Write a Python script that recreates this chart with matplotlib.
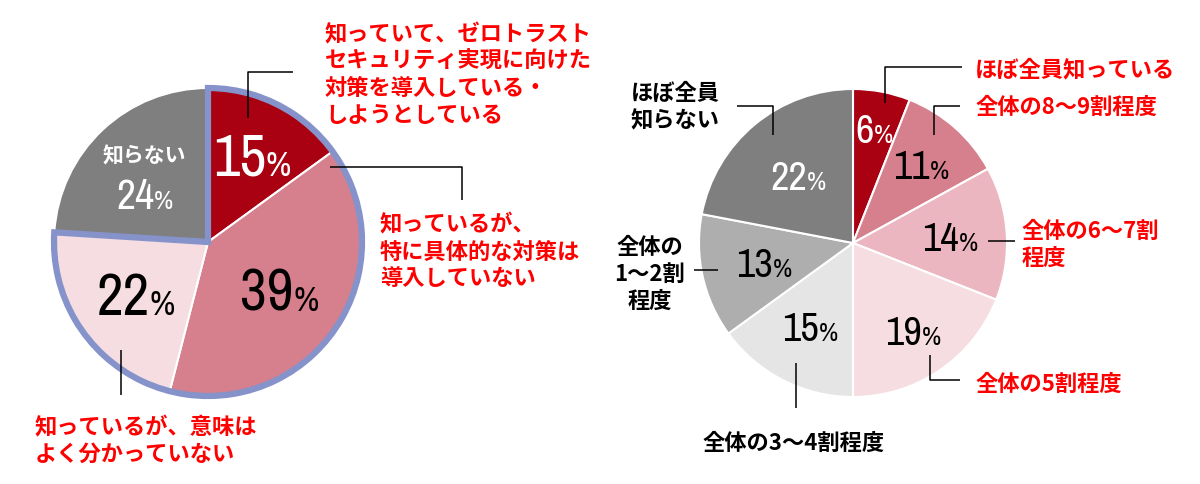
import numpy as np
from matplotlib import pyplot as plt
from matplotlib.patches import Wedge

# left pie: awareness of zero trust
left_values = [15, 39, 22, 24]
left_nums = ['15', '39', '22', '24']
left_colors = ['#A90012', '#D6808E', '#F5DDE1', '#7F7F7F']
left_numcolors = ['white', 'black', 'black', 'white']
left_callouts = ['知っていて、ゼロトラスト\nセキュリティ実現に向けた\n対策を導入している・\nしようとしている',
                 '知っているが、\n特に具体的な対策は\n導入していない',
                 '知っているが、意味は\nよく分かっていない']

# right pie: share of staff who know
right_values = [6, 11, 14, 19, 15, 13, 22]
right_nums = ['6', '11', '14', '19', '15', '13', '22']
right_colors = ['#A90012', '#D6808E', '#EBB6C0', '#F5DDE1', '#E5E5E5', '#AEAEAE', '#7F7F7F']
right_numcolors = ['white', 'black', 'black', 'black', 'black', 'black', 'white']
right_callouts = ['ほぼ全員知っている', '全体の8～9割程度', '全体の6～7割\n程度', '全体の5割程度',
                  '全体の3～4割程度', '全体の\n1～2割\n程度', 'ほぼ全員\n知らない']

W, H = 1200, 484
JP = ['Noto Sans CJK JP', 'DejaVu Sans']
NUM = ['Archivo Narrow', 'Roboto Condensed', 'DejaVu Sans']
RED = '#FF0000'

fig = plt.figure(figsize=(12, 4.84), dpi=100)
ax = fig.add_axes([0, 0, 1, 1])


def Y(y):
    return H - y


R = 154
lc = (208, Y(242))
rc = (853, Y(243))

lw_, _ = ax.pie(left_values, colors=left_colors, startangle=90, counterclock=False,
                radius=R, center=lc, wedgeprops=dict(edgecolor='white', linewidth=1.5))
rw_, _ = ax.pie(right_values, colors=right_colors, startangle=90, counterclock=False,
                radius=R, center=rc, wedgeprops=dict(edgecolor='white', linewidth=1.5))

# blue frame round the three "know" slices
ax.add_patch(Wedge(lc, R, lw_[2].theta1, lw_[0].theta2, fill=False,
                   edgecolor='#8593CA', linewidth=4.5, joinstyle='miter'))

ax.set_xlim(0, W)
ax.set_ylim(0, H)
ax.set_aspect('equal')
ax.axis('off')

labels = []


def pct_label(center, wedge, rf, num, big, small, color, dy=0):
    mid = np.deg2rad((wedge.theta1 + wedge.theta2) / 2)
    x = center[0] + rf * R * np.cos(mid)
    y = center[1] + rf * R * np.sin(mid) + dy
    base = y - 0.345 * big * 100 / 72
    t1 = ax.text(x, base, num, fontsize=big, family=NUM, color=color, ha='right', va='baseline')
    t2 = ax.text(x, base, '%', fontsize=small, family=NUM, color=color, ha='left', va='baseline')
    labels.append((t1, t2, x, base))
    return x, y


left_rf = [0.63, 0.56, 0.58, 0.60]
left_big = [42, 42, 42, 30]
left_small = [25, 25, 25, 19]
for i in range(4):
    dy = -20 if i == 3 else 0
    x, y = pct_label(lc, lw_[i], left_rf[i], left_nums[i], left_big[i], left_small[i],
                     left_numcolors[i], dy)
ax.text(x, y + 39, '知らない', fontsize=15, family=JP, weight='bold', color='white',
        ha='center', va='center')

right_rf = [0.75, 0.67, 0.63, 0.69, 0.61, 0.59, 0.56]
for i in range(7):
    pct_label(rc, rw_[i], right_rf[i], right_nums[i], 29, 19, right_numcolors[i])

# leader lines (image pixel coords)
leaders = [
    [(248, 118), (248, 72), (293, 72)],
    [(330, 167), (462, 167), (462, 200)],
    [(121, 350), (121, 395)],
    [(885, 103), (885, 67), (962, 67)],
    [(934, 135), (934, 106), (960, 106)],
    [(988, 241), (1015, 241)],
    [(930, 355), (930, 380), (960, 380)],
    [(796, 363), (796, 408)],
    [(694, 270), (718, 270)],
    [(737, 106), (773, 106), (773, 135)],
]
for pts in leaders:
    xs = [p[0] for p in pts]
    ys = [Y(p[1]) for p in pts]
    ax.plot(xs, ys, color='black', linewidth=1.1, solid_capstyle='butt')

txt = dict(fontsize=16, family=JP, weight='bold', va='center', linespacing=1.22)
ax.text(325, Y(75), left_callouts[0], color=RED, ha='left', **txt)
ax.text(380, Y(252), left_callouts[1], color=RED, ha='left', **txt)
ax.text(35, Y(441), left_callouts[2], color=RED, ha='left', **txt)

ax.text(975, Y(70), right_callouts[0], color=RED, ha='left', **txt)
ax.text(975, Y(107), right_callouts[1], color=RED, ha='left', **txt)
ax.text(1022, Y(245), right_callouts[2], color=RED, ha='left', **txt)
ax.text(975, Y(384), right_callouts[3], color=RED, ha='left', **txt)
ax.text(794, Y(443), right_callouts[4], color='black', ha='center', **txt)
ax.text(650, Y(274), right_callouts[5], color='black', ha='center', multialignment='center', **txt)
ax.text(631, Y(107), right_callouts[6], color='black', ha='left', **txt)

# centre each number + % pair on its spot
fig.canvas.draw()
rend = fig.canvas.get_renderer()
for t1, t2, x, base in labels:
    w1 = t1.get_window_extent(rend).width
    w2 = t2.get_window_extent(rend).width
    shift = (w1 - w2) / 2
    t1.set_position((x + shift, base))
    t2.set_position((x + shift, base))

fig.savefig('out.png', dpi=100, facecolor='white')
